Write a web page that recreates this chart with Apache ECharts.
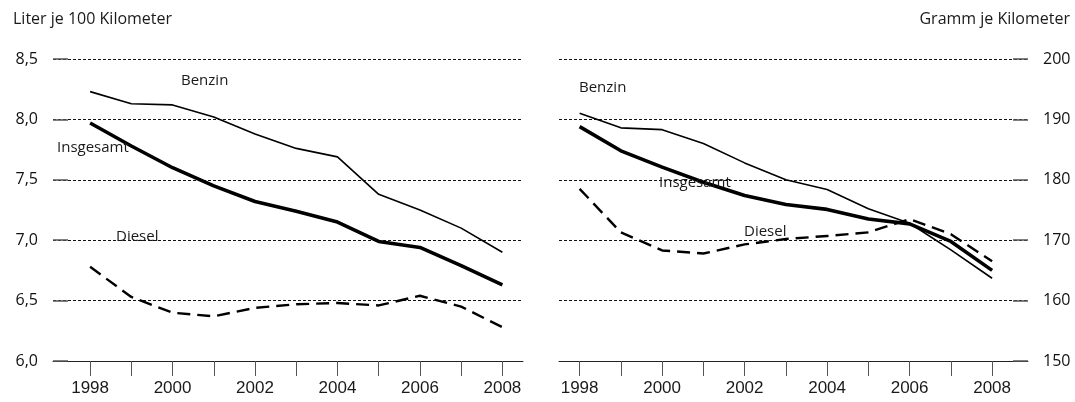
<!DOCTYPE html>
<html>
<head>
<meta charset="utf-8">
<script src="https://cdn.jsdelivr.net/npm/echarts@6/dist/echarts.min.js"></script>
<style>
html, body { margin: 0; padding: 0; background: #fff; }
#chart { width: 1075px; height: 402px; }
</style>
</head>
<body>
<div id="chart"></div>
<script>
// Data
const years = [1998, 1999, 2000, 2001, 2002, 2003, 2004, 2005, 2006, 2007, 2008];
const yearLabels = [1998, 2000, 2002, 2004, 2006, 2008];

// Liter je 100 Kilometer
const literBenzin = [8.23, 8.13, 8.12, 8.02, 7.88, 7.76, 7.69, 7.38, 7.25, 7.10, 6.90];
const literInsgesamt = [7.97, 7.78, 7.60, 7.45, 7.32, 7.24, 7.15, 6.99, 6.94, 6.79, 6.63];
const literDiesel = [6.78, 6.53, 6.40, 6.37, 6.44, 6.47, 6.48, 6.46, 6.54, 6.45, 6.28];

// Gramm je Kilometer
const grammBenzin = [191.0, 188.6, 188.3, 186.0, 182.8, 180.0, 178.4, 175.2, 172.8, 168.4, 163.7];
const grammInsgesamt = [188.8, 184.8, 182.1, 179.6, 177.4, 175.9, 175.1, 173.5, 172.7, 169.8, 165.0];
const grammDiesel = [178.5, 171.3, 168.3, 167.8, 169.3, 170.2, 170.7, 171.3, 173.5, 171.0, 166.5];

const leftTicks = [6.0, 6.5, 7.0, 7.5, 8.0, 8.5];
const rightTicks = [150, 160, 170, 180, 190, 200];

const textFont = "'Open Sans', sans-serif";
const numFont = "'Liberation Sans', Arial, sans-serif";
const ink = "#1a1a1a";

function pairs(vals) {
    return years.map((y, i) => [y, vals[i]]);
}

function xAxisFor(gridIndex, min, max) {
    return {
        type: "value",
        gridIndex: gridIndex,
        min: min,
        max: max,
        axisLine: { show: true, lineStyle: { color: "#222", width: 1 } },
        axisTick: {
            show: true, inside: false, length: 15,
            customValues: years,
            lineStyle: { color: "#555", width: 1 }
        },
        axisLabel: {
            customValues: yearLabels,
            formatter: v => String(v),
            margin: 19,
            color: ink,
            fontFamily: numFont,
            fontSize: 17
        },
        splitLine: { show: false }
    };
}

function yAxisFor(gridIndex, position, ticks, interval, fmt) {
    return {
        type: "value",
        gridIndex: gridIndex,
        position: position,
        min: ticks[0],
        max: ticks[ticks.length - 1],
        interval: interval,
        axisLine: { show: false },
        axisTick: { show: true, inside: true, length: 15, lineStyle: { color: "#555", width: 1.5 } },
        axisLabel: {
            margin: 15,
            color: "#111",
            fontFamily: textFont,
            fontSize: 16,
            formatter: fmt
        },
        splitLine: { show: true, lineStyle: { color: "#111", width: 1, type: [3, 2] } }
    };
}

function lineSeries(xi, vals, width, dashed) {
    return {
        type: "line",
        xAxisIndex: xi,
        yAxisIndex: xi,
        data: pairs(vals),
        symbol: "none",
        silent: true,
        lineStyle: { color: "#000", width: width, type: dashed ? [13, 7] : "solid", cap: "butt", join: "round" },
        z: 3
    };
}

function txt(left, top, text, size) {
    return {
        type: "text",
        left: left,
        top: top,
        style: {
            text: text,
            fill: ink,
            font: (size || 15) + "px " + textFont
        },
        z: 10
    };
}

const chart = echarts.init(document.getElementById("chart"), null, { renderer: "canvas" });

chart.setOption({
    animation: false,
    backgroundColor: "#fff",
    grid: [
        { left: 53, right: 552, top: 59, bottom: 41 },
        { left: 559, right: 47, top: 59, bottom: 41 }
    ],
    xAxis: [
        xAxisFor(0, 1997.1, 2008.5),
        xAxisFor(1, 1997.5, 2008.87)
    ],
    yAxis: [
        yAxisFor(0, "left", leftTicks, 0.5, v => v.toFixed(1).replace(".", ",")),
        yAxisFor(1, "right", rightTicks, 10, v => String(v))
    ],
    series: [
        lineSeries(0, literBenzin, 1.6, false),
        lineSeries(0, literInsgesamt, 3.6, false),
        lineSeries(0, literDiesel, 2.4, true),
        lineSeries(1, grammBenzin, 1.6, false),
        lineSeries(1, grammInsgesamt, 3.6, false),
        lineSeries(1, grammDiesel, 2.4, true)
    ],
    graphic: [
        txt(13, 11, "Liter je 100 Kilometer", 16),
        { type: "text", right: 5, top: 11, style: { text: "Gramm je Kilometer", fill: ink, font: "16px " + textFont }, z: 10 },
        txt(181, 73, "Benzin"),
        txt(57, 140, "Insgesamt"),
        txt(116, 229, "Diesel"),
        txt(579, 80, "Benzin"),
        txt(659, 175, "Insgesamt"),
        txt(744, 224, "Diesel")
    ]
});
</script>
</body>
</html>
